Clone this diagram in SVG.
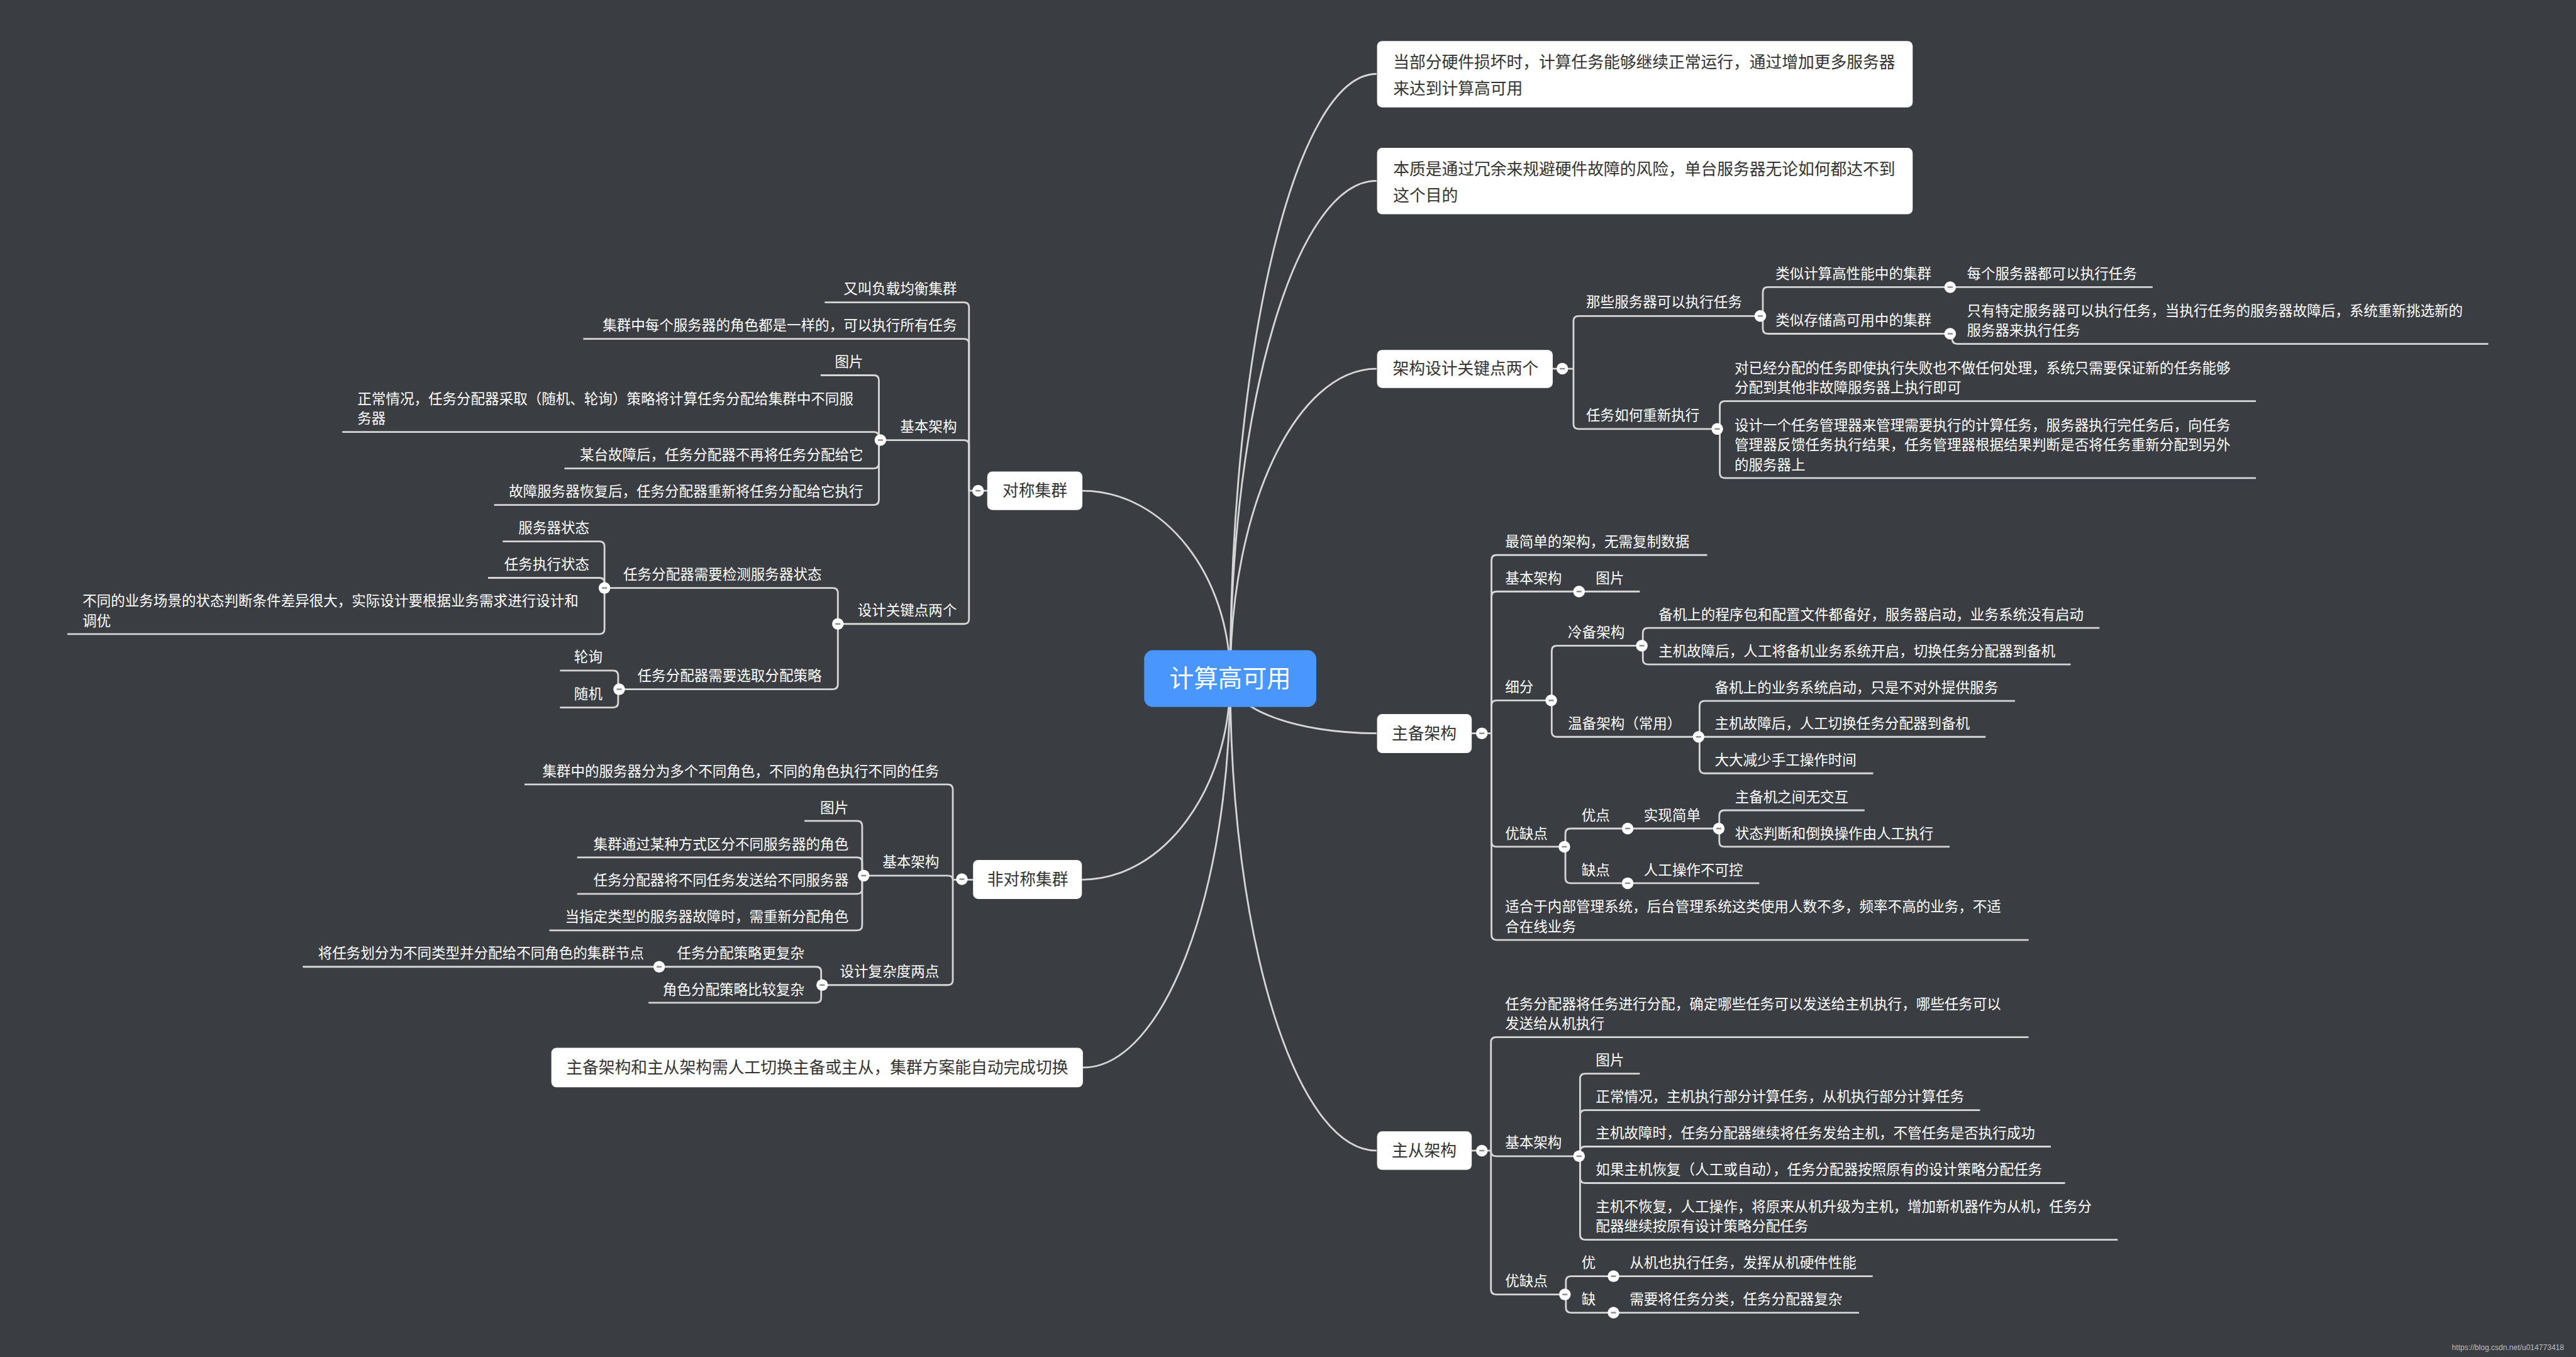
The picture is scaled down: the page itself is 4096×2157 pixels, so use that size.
<svg xmlns="http://www.w3.org/2000/svg" width="4096" height="2157" viewBox="0 0 4096 2157">
<defs>
<style>
.ln{fill:none;stroke:#d6d6d6;stroke-width:3.5}
.t{font-family:"Noto Sans CJK SC","Noto Sans",sans-serif;font-size:28px;fill:#ffffff;dominant-baseline:central;transform:translate(0px,-3px)}
.e{text-anchor:end}
.bx{fill:#ffffff}
.bt{font-family:"Noto Sans CJK SC","Noto Sans",sans-serif;font-size:32px;fill:#333333;dominant-baseline:central;transform:translate(0px,-3px)}
.m{text-anchor:middle}
.root{fill:#4a96ff}
.rt{font-family:"Noto Sans CJK SC","Noto Sans",sans-serif;font-size:48px;fill:#ffffff;dominant-baseline:central;text-anchor:middle;transform:translate(0px,-4px)}
.wm{font-family:"Liberation Sans",Arial,sans-serif;font-size:15px;fill:#bdbdbd;dominant-baseline:central}
</style>
<g id="col"><circle r="11.5" fill="#ffffff"/><rect x="-5" y="-1.5" width="10" height="3" fill="#8a8a8a"/></g>
</defs>
<rect width="4096" height="2157" fill="#3a3d42"/>
<g transform="scale(0.805)">
<g id="connectors" class="ln">
<path d="M2430,1340 C2430,683 2560,146 2719,146"/>
<path d="M2430,1340 C2430,799 2560,357 2719,357"/>
<path d="M2430,1340 C2430,1003 2560,728 2719,728"/>
<path d="M2430,1340 C2430,1399 2560,1448 2719,1448"/>
<path d="M2430,1340 C2430,1853 2560,2272 2719,2272"/>
<path d="M2430,1340 C2430,1136 2299,969 2138,969"/>
<path d="M2430,1340 C2430,1558 2298,1737 2137,1737"/>
<path d="M2430,1340 C2430,1762 2299,2108 2139,2108"/>
<path d="M3067,728 H3108"/>
<path d="M3108,728 V634 Q3108,624 3118,624 H3482"/>
<path d="M3108,728 V837 Q3108,847 3118,847 H3397"/>
<path d="M3482,624 V577 Q3482,567 3492,567 H3852"/>
<path d="M3482,624 V649 Q3482,659 3492,659 H3852"/>
<path d="M3852,567 H4252"/>
<path d="M3856,659 V669 Q3856,679 3866,679 H4915"/>
<path d="M3397,847 V802 Q3397,792 3407,792 H4456"/>
<path d="M3397,847 V934 Q3397,944 3407,944 H4456"/>
<path d="M2906,1448 H2946"/>
<path d="M2946,1448 V1106 Q2946,1096 2956,1096 H3372"/>
<path d="M2946,1448 V1178 Q2946,1168 2956,1168 H3239"/>
<path d="M2946,1448 V1393 Q2946,1383 2956,1383 H3065"/>
<path d="M2946,1448 V1662 Q2946,1672 2956,1672 H3092"/>
<path d="M2946,1448 V1846 Q2946,1856 2956,1856 H4007"/>
<path d="M3065,1383 V1285 Q3065,1275 3075,1275 H3245"/>
<path d="M3065,1383 V1445 Q3065,1455 3075,1455 H3357"/>
<path d="M3245,1275 V1250 Q3245,1240 3255,1240 H4147"/>
<path d="M3245,1275 V1302 Q3245,1312 3255,1312 H4090"/>
<path d="M3357,1455 V1394 Q3357,1384 3367,1384 H3980"/>
<path d="M3355,1455 H3922"/>
<path d="M3357,1455 V1517 Q3357,1527 3367,1527 H3700"/>
<path d="M3092,1672 V1646 Q3092,1636 3102,1636 H3215"/>
<path d="M3092,1672 V1734 Q3092,1744 3102,1744 H3215"/>
<path d="M3215,1636 H3396"/>
<path d="M3396,1636 V1610 Q3396,1600 3406,1600 H3683"/>
<path d="M3396,1636 V1662 Q3396,1672 3406,1672 H3851"/>
<path d="M3215,1744 H3475"/>
<path d="M2906,2272 H2945"/>
<path d="M2945,2272 V2058 Q2945,2048 2955,2048 H4007"/>
<path d="M2945,2272 V2273 Q2945,2283 2955,2283 H3121"/>
<path d="M2945,2272 V2546 Q2945,2556 2955,2556 H3093"/>
<path d="M3121,2283 V2130 Q3121,2120 3131,2120 H3239"/>
<path d="M3121,2283 V2202 Q3121,2192 3131,2192 H3911"/>
<path d="M3121,2283 V2274 Q3121,2264 3131,2264 H4051"/>
<path d="M3121,2283 V2326 Q3121,2336 3131,2336 H4079"/>
<path d="M3121,2283 V2438 Q3121,2448 3131,2448 H4183"/>
<path d="M3093,2556 V2530 Q3093,2520 3103,2520 H3187"/>
<path d="M3093,2556 V2582 Q3093,2592 3103,2592 H3187"/>
<path d="M3187,2520 H3699"/>
<path d="M3187,2592 H3672"/>
<path d="M1950,969 H1914"/>
<path d="M1914,969 V607 Q1914,597 1904,597 H1629"/>
<path d="M1914,969 V679 Q1914,669 1904,669 H1152"/>
<path d="M1914,969 V879 Q1914,869 1904,869 H1736"/>
<path d="M1914,969 V1222 Q1914,1232 1904,1232 H1655"/>
<path d="M1736,869 V751 Q1736,741 1726,741 H1621"/>
<path d="M1736,869 V863 Q1736,853 1726,853 H676"/>
<path d="M1736,869 V915 Q1736,925 1726,925 H1115"/>
<path d="M1736,869 V987 Q1736,997 1726,997 H976"/>
<path d="M1655,1232 V1171 Q1655,1161 1645,1161 H1194"/>
<path d="M1655,1232 V1351 Q1655,1361 1645,1361 H1221"/>
<path d="M1194,1161 V1079 Q1194,1069 1184,1069 H993"/>
<path d="M1194,1161 V1151 Q1194,1141 1184,1141 H964"/>
<path d="M1194,1161 V1242 Q1194,1252 1184,1252 H133"/>
<path d="M1221,1361 V1334 Q1221,1324 1211,1324 H1106"/>
<path d="M1221,1361 V1387 Q1221,1397 1211,1397 H1106"/>
<path d="M1922,1737 H1882"/>
<path d="M1882,1737 V1559 Q1882,1549 1872,1549 H1036"/>
<path d="M1882,1737 Q1882,1729 1872,1729 H1703"/>
<path d="M1882,1737 V1935 Q1882,1945 1872,1945 H1622"/>
<path d="M1703,1729 V1631 Q1703,1621 1693,1621 H1589"/>
<path d="M1703,1729 V1703 Q1703,1693 1693,1693 H1140"/>
<path d="M1703,1729 V1755 Q1703,1765 1693,1765 H1140"/>
<path d="M1703,1729 V1827 Q1703,1837 1693,1837 H1085"/>
<path d="M1622,1945 V1919 Q1622,1909 1612,1909 H1302"/>
<path d="M1622,1945 V1970 Q1622,1980 1612,1980 H1281"/>
<path d="M1302,1909 H598"/>
</g>

<g id="n-root"><rect class="root" x="2260" y="1284" width="340" height="112" rx="17"/><text class="rt" x="2430" y="1340">计算高可用</text></g>

<g id="n-r1"><rect class="bx" x="2720" y="81" width="1058" height="131" rx="10"/><text class="bt" x="2752" y="123">当部分硬件损坏时，计算任务能够继续正常运行，通过增加更多服务器</text><text class="bt" x="2752" y="175">来达到计算高可用</text></g>
<g id="n-r2"><rect class="bx" x="2720" y="292" width="1058" height="131" rx="10"/><text class="bt" x="2752" y="334">本质是通过冗余来规避硬件故障的风险，单台服务器无论如何都达不到</text><text class="bt" x="2752" y="386">这个目的</text></g>

<g id="n-r3"><rect class="bx" x="2720" y="691" width="347" height="75" rx="10"/><text class="bt" x="2751" y="728">架构设计关键点两个</text><use href="#col" x="3086" y="728"/></g>
<g id="n-r3a"><text class="t" x="3133" y="597">那些服务器可以执行任务</text><use href="#col" x="3477" y="624"/></g>
<g id="n-r3a1"><text class="t" x="3507" y="541">类似计算高性能中的集群</text><use href="#col" x="3852" y="567"/></g>
<g id="n-r3a1a"><text class="t" x="3885" y="541">每个服务器都可以执行任务</text></g>
<g id="n-r3a2"><text class="t" x="3507" y="633">类似存储高可用中的集群</text><use href="#col" x="3852" y="659"/></g>
<g id="n-r3a2a"><text class="t" x="3885" y="614">只有特定服务器可以执行任务，当执行任务的服务器故障后，系统重新挑选新的</text><text class="t" x="3885" y="653">服务器来执行任务</text></g>
<g id="n-r3b"><text class="t" x="3133" y="821">任务如何重新执行</text><use href="#col" x="3392" y="847"/></g>
<g id="n-r3b1"><text class="t" x="3426" y="727">对已经分配的任务即使执行失败也不做任何处理，系统只需要保证新的任务能够</text><text class="t" x="3426" y="766">分配到其他非故障服务器上执行即可</text></g>
<g id="n-r3b2"><text class="t" x="3426" y="840">设计一个任务管理器来管理需要执行的计算任务，服务器执行完任务后，向任务</text><text class="t" x="3426" y="879">管理器反馈任务执行结果，任务管理器根据结果判断是否将任务重新分配到另外</text><text class="t" x="3426" y="918">的服务器上</text></g>

<g id="n-r4"><rect class="bx" x="2720" y="1410" width="187" height="77" rx="10"/><text class="bt" x="2813" y="1448" text-anchor="middle">主备架构</text><use href="#col" x="2927" y="1448"/></g>
<g id="n-r4a"><text class="t" x="2973" y="1070">最简单的架构，无需复制数据</text></g>
<g id="n-r4b"><text class="t" x="2973" y="1142">基本架构</text><use href="#col" x="3119" y="1168"/></g>
<g id="n-r4b1"><text class="t" x="3152" y="1142">图片</text></g>
<g id="n-r4c"><text class="t" x="2973" y="1357">细分</text><use href="#col" x="3064" y="1383"/></g>
<g id="n-r4c1"><text class="t" x="3097" y="1249">冷备架构</text><use href="#col" x="3243" y="1275"/></g>
<g id="n-r4c1a"><text class="t" x="3276" y="1214">备机上的程序包和配置文件都备好，服务器启动，业务系统没有启动</text></g>
<g id="n-r4c1b"><text class="t" x="3276" y="1286">主机故障后，人工将备机业务系统开启，切换任务分配器到备机</text></g>
<g id="n-r4c2"><text class="t" x="3097" y="1429">温备架构（常用）</text><use href="#col" x="3355" y="1455"/></g>
<g id="n-r4c2a"><text class="t" x="3387" y="1358">备机上的业务系统启动，只是不对外提供服务</text></g>
<g id="n-r4c2b"><text class="t" x="3387" y="1429">主机故障后，人工切换任务分配器到备机</text></g>
<g id="n-r4c2c"><text class="t" x="3387" y="1501">大大减少手工操作时间</text></g>
<g id="n-r4d"><text class="t" x="2973" y="1646">优缺点</text><use href="#col" x="3090" y="1672"/></g>
<g id="n-r4d1"><text class="t" x="3124" y="1610">优点</text><use href="#col" x="3215" y="1636"/></g>
<g id="n-r4d1a"><text class="t" x="3247" y="1610">实现简单</text><use href="#col" x="3395" y="1636"/></g>
<g id="n-r4d1a1"><text class="t" x="3427" y="1574">主备机之间无交互</text></g>
<g id="n-r4d1a2"><text class="t" x="3427" y="1646">状态判断和倒换操作由人工执行</text></g>
<g id="n-r4d2"><text class="t" x="3124" y="1718">缺点</text><use href="#col" x="3215" y="1744"/></g>
<g id="n-r4d2a"><text class="t" x="3247" y="1718">人工操作不可控</text></g>
<g id="n-r4e"><text class="t" x="2973" y="1791">适合于内部管理系统，后台管理系统这类使用人数不多，频率不高的业务，不适</text><text class="t" x="2973" y="1830">合在线业务</text></g>

<g id="n-r5"><rect class="bx" x="2720" y="2234" width="187" height="76" rx="10"/><text class="bt" x="2813" y="2272" text-anchor="middle">主从架构</text><use href="#col" x="2927" y="2272"/></g>
<g id="n-r5a"><text class="t" x="2973" y="1983">任务分配器将任务进行分配，确定哪些任务可以发送给主机执行，哪些任务可以</text><text class="t" x="2973" y="2022">发送给从机执行</text></g>
<g id="n-r5b"><text class="t" x="2973" y="2257">基本架构</text><use href="#col" x="3119" y="2283"/></g>
<g id="n-r5b1"><text class="t" x="3152" y="2094">图片</text></g>
<g id="n-r5b2"><text class="t" x="3152" y="2166">正常情况，主机执行部分计算任务，从机执行部分计算任务</text></g>
<g id="n-r5b3"><text class="t" x="3152" y="2238">主机故障时，任务分配器继续将任务发给主机，不管任务是否执行成功</text></g>
<g id="n-r5b4"><text class="t" x="3152" y="2310">如果主机恢复（人工或自动），任务分配器按照原有的设计策略分配任务</text></g>
<g id="n-r5b5"><text class="t" x="3152" y="2383">主机不恢复，人工操作，将原来从机升级为主机，增加新机器作为从机，任务分</text><text class="t" x="3152" y="2422">配器继续按原有设计策略分配任务</text></g>
<g id="n-r5c"><text class="t" x="2973" y="2530">优缺点</text><use href="#col" x="3091" y="2556"/></g>
<g id="n-r5c1"><text class="t" x="3124" y="2494">优</text><use href="#col" x="3187" y="2520"/></g>
<g id="n-r5c1a"><text class="t" x="3219" y="2494">从机也执行任务，发挥从机硬件性能</text></g>
<g id="n-r5c2"><text class="t" x="3124" y="2566">缺</text><use href="#col" x="3187" y="2592"/></g>
<g id="n-r5c2a"><text class="t" x="3219" y="2566">需要将任务分类，任务分配器复杂</text></g>

<g id="n-l1"><rect class="bx" x="1950" y="931" width="188" height="76" rx="10"/><text class="bt m" x="2044" y="969">对称集群</text><use href="#col" x="1932" y="969"/></g>
<g id="n-l1a"><text class="t e" x="1890" y="571">又叫负载均衡集群</text></g>
<g id="n-l1b"><text class="t e" x="1890" y="643">集群中每个服务器的角色都是一样的，可以执行所有任务</text></g>
<g id="n-l1c"><text class="t e" x="1890" y="843">基本架构</text><use href="#col" x="1739" y="869"/></g>
<g id="n-l1c1"><text class="t e" x="1705" y="715">图片</text></g>
<g id="n-l1c2"><text class="t" x="706" y="788">正常情况，任务分配器采取（随机、轮询）策略将计算任务分配给集群中不同服</text><text class="t" x="706" y="827">务器</text></g>
<g id="n-l1c3"><text class="t e" x="1705" y="899">某台故障后，任务分配器不再将任务分配给它</text></g>
<g id="n-l1c4"><text class="t e" x="1705" y="971">故障服务器恢复后，任务分配器重新将任务分配给它执行</text></g>
<g id="n-l1d"><text class="t e" x="1890" y="1206">设计关键点两个</text><use href="#col" x="1655" y="1232"/></g>
<g id="n-l1d1"><text class="t e" x="1623" y="1135">任务分配器需要检测服务器状态</text><use href="#col" x="1194" y="1161"/></g>
<g id="n-l1d1a"><text class="t e" x="1164" y="1043">服务器状态</text></g>
<g id="n-l1d1b"><text class="t e" x="1164" y="1115">任务执行状态</text></g>
<g id="n-l1d1c"><text class="t" x="163" y="1187">不同的业务场景的状态判断条件差异很大，实际设计要根据业务需求进行设计和</text><text class="t" x="163" y="1226">调优</text></g>
<g id="n-l1d2"><text class="t e" x="1623" y="1335">任务分配器需要选取分配策略</text><use href="#col" x="1223" y="1361"/></g>
<g id="n-l1d2a"><text class="t e" x="1190" y="1298">轮询</text></g>
<g id="n-l1d2b"><text class="t e" x="1190" y="1371">随机</text></g>

<g id="n-l2"><rect class="bx" x="1922" y="1698" width="215" height="77" rx="10"/><text class="bt m" x="2030" y="1737">非对称集群</text><use href="#col" x="1900" y="1736"/></g>
<g id="n-l2a"><text class="t e" x="1855" y="1523">集群中的服务器分为多个不同角色，不同的角色执行不同的任务</text></g>
<g id="n-l2b"><text class="t e" x="1855" y="1703">基本架构</text><use href="#col" x="1706" y="1729"/></g>
<g id="n-l2b1"><text class="t e" x="1676" y="1595">图片</text></g>
<g id="n-l2b2"><text class="t e" x="1676" y="1667">集群通过某种方式区分不同服务器的角色</text></g>
<g id="n-l2b3"><text class="t e" x="1676" y="1739">任务分配器将不同任务发送给不同服务器</text></g>
<g id="n-l2b4"><text class="t e" x="1676" y="1811">当指定类型的服务器故障时，需重新分配角色</text></g>
<g id="n-l2c"><text class="t e" x="1855" y="1919">设计复杂度两点</text><use href="#col" x="1624" y="1945"/></g>
<g id="n-l2c1"><text class="t e" x="1589" y="1883">任务分配策略更复杂</text><use href="#col" x="1302" y="1909"/></g>
<g id="n-l2c1a"><text class="t e" x="1272" y="1883">将任务划分为不同类型并分配给不同角色的集群节点</text></g>
<g id="n-l2c2"><text class="t e" x="1589" y="1954">角色分配策略比较复杂</text></g>

<g id="n-l3"><rect class="bx" x="1089" y="2069" width="1050" height="78" rx="10"/><text class="bt m" x="1614" y="2108">主备架构和主从架构需人工切换主备或主从，集群方案能自动完成切换</text></g>

<text class="wm" x="4843" y="2661">https://blog.csdn.net/u014773418</text>
</g>
</svg>
